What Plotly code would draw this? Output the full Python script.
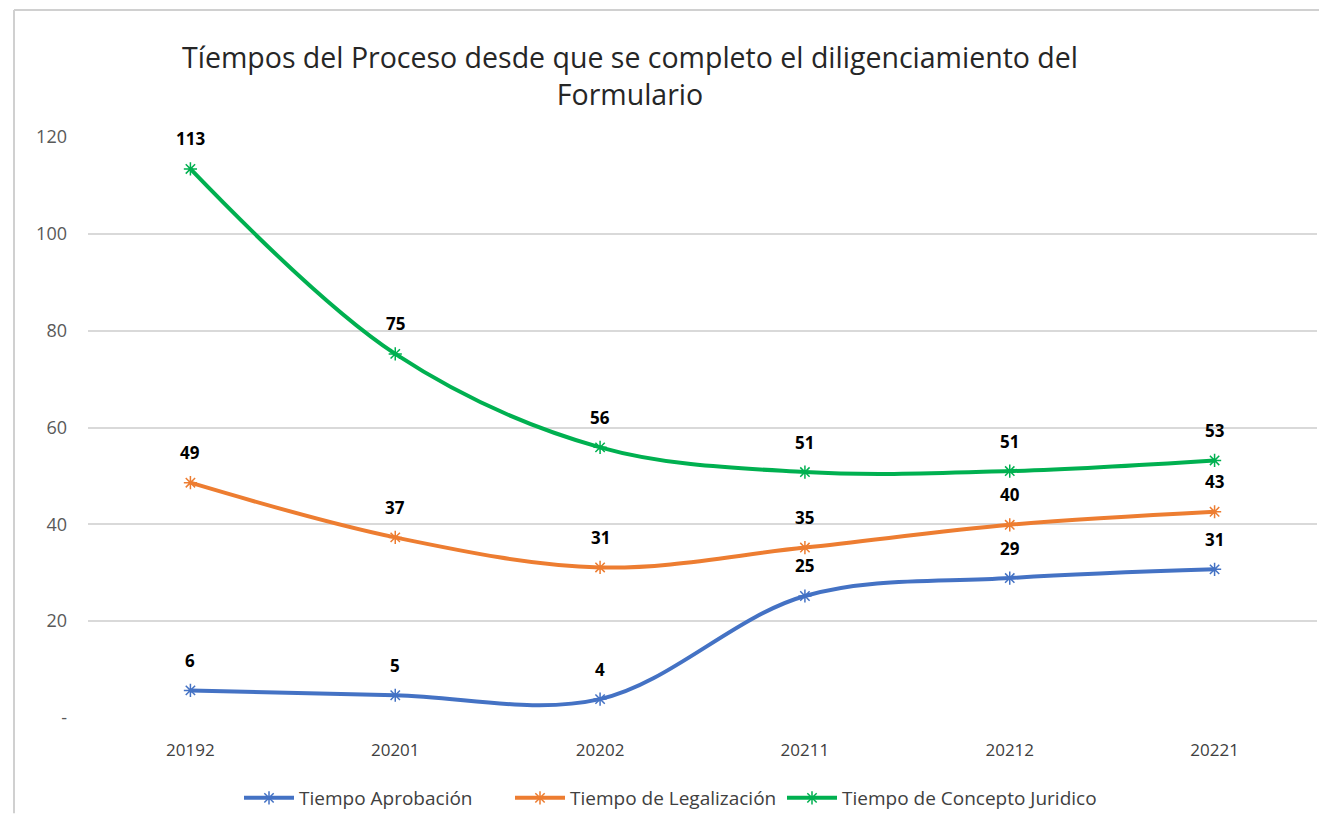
import plotly.graph_objects as go

periods = ["20192", "20201", "20202", "20211", "20212", "20221"]
aprobacion = [5.7, 4.7, 3.9, 25.2, 28.9, 30.7]
legalizacion = [48.6, 37.3, 31.1, 35.2, 39.9, 42.6]
concepto = [113.4, 75.2, 55.9, 50.8, 51.0, 53.2]
series_names = ["Tiempo Aprobación", "Tiempo de Legalización", "Tiempo de Concepto Juridico"]
colors = ["#4472C4", "#ED7D31", "#00B050"]
ytick_vals = [0, 20, 40, 60, 80, 100, 120]
ytick_text = ["-", "20", "40", "60", "80", "100", "120"]
title_text = "Tíempos del Proceso desde que se completo el diligenciamiento del<br>Formulario"

FONT = "Open Sans, sans-serif"

# the page is rendered with an 8px body offset
W, H = 1311, 811
L, R, T, B = 80, 2, 129, 96
pw, ph = W - L - R, H - T - B

legend_ids = ["legend", "legend2", "legend3"]
legend_left_px = [239, 510, 782]

fig = go.Figure()
for name, vals, col, lid in zip(series_names, [aprobacion, legalizacion, concepto], colors, legend_ids):
    fig.add_trace(go.Scatter(
        x=periods, y=vals, name=name, legend=lid,
        mode="lines+markers",
        line=dict(color=col, width=4, shape="spline", smoothing=1.0),
        marker=dict(symbol="asterisk-open", size=11, color=col, line=dict(color=col, width=1.5)),
        cliponaxis=False,
    ))
    for i, v in enumerate(vals):
        fig.add_annotation(x=i, y=v, xref="x", yref="y", text=f"<b>{round(v):d}</b>",
                           showarrow=False, yanchor="middle", yshift=30,
                           font=dict(family=FONT, size=17, color="#000000"))

legend_style = dict(orientation="h", xanchor="left", y=-0.105, yanchor="top",
                    font=dict(size=19, color="#404040"), itemwidth=50,
                    bgcolor="rgba(0,0,0,0)")
legends = {lid: dict(legend_style, x=(px - 8 - L) / pw) for lid, px in zip(legend_ids, legend_left_px)}

fig.update_layout(
    width=W, height=H,
    margin=dict(l=L, r=R, t=T, b=B),
    paper_bgcolor="white", plot_bgcolor="white",
    title=dict(text=title_text, x=(630 - 8 - L) / pw, xref="paper", xanchor="center",
               y=1 - 60 / H, yanchor="top",
               font=dict(family=FONT, size=28.5, color="#262626")),
    font=dict(family=FONT, color="#595959"),
    showlegend=True,
    **legends,
)
fig.update_xaxes(type="category", range=[-0.5, 5.5], showgrid=False, showline=False, ticks="",
                 ticklabelstandoff=20,
                 tickfont=dict(size=17, color="#404040"))
fig.update_yaxes(range=[0, 120], tickvals=ytick_vals, ticktext=ytick_text,
                 showgrid=True, gridcolor="#D9D9D9", gridwidth=1.5, zeroline=False,
                 showline=False, ticks="", ticklabelstandoff=20,
                 tickfont=dict(size=18, color="#595959"))

# frame border (left and top)
x0 = (6 - L) / pw
ytop = 1 + (T - 1) / ph
fig.add_shape(type="line", xref="paper", yref="paper", x0=x0, x1=x0, y0=-B / ph, y1=ytop,
              line=dict(color="#D0D0D0", width=2))
fig.add_shape(type="line", xref="paper", yref="paper", x0=x0, x1=1 + R / pw, y0=ytop, y1=ytop,
              line=dict(color="#D0D0D0", width=2))

fig.write_html("out.html")
